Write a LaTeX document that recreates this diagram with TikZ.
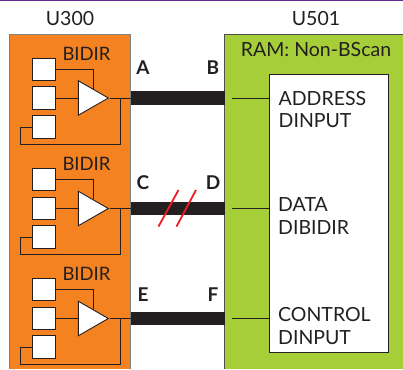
\documentclass[tikz,border=0pt]{standalone}
\usepackage{fontspec}
\setmainfont{Lato}
\usepackage{tikz}
\usetikzlibrary{positioning}
\usetikzlibrary{shapes.geometric}
\definecolor{morange}{HTML}{F58220}
\definecolor{mgreen}{HTML}{A6CE39}
\definecolor{mpurple}{HTML}{662D91}
\definecolor{mred}{HTML}{ED1C24}
\definecolor{mblack}{HTML}{231F20}
\tikzset{pin box/.style = {draw = mblack, fill = white, line width = 0.9pt, minimum size = 22.5pt, inner sep = 0pt},
         buffer/.style = {draw = mblack, fill = white, line width = 0.9pt, isosceles triangle,
                          isosceles triangle stretches, minimum width = 34.5pt, minimum height = 30pt,
                          inner sep = 0pt, anchor = apex},
         wire/.style = {draw = mblack, line width = 0.9pt},
         bus/.style = {draw = mblack, line width = 13.8pt},
         slash/.style = {draw = mred, line width = 1.8pt},
         label/.style = {text = mblack, font = \fontsize{19.5}{20}\selectfont, inner sep = 0pt},
         bidir/.style = {text = mblack, font = \fontsize{18.5}{20}\selectfont, inner sep = 0pt},
         pin name/.style = {text = mblack, font = \fontsize{19}{20}\selectfont\bfseries, inner sep = 0pt}}

\begin{document}
\begin{tikzpicture}[x = 1pt, y = -1pt]
      \useasboundingbox (0, 0) rectangle (403, 369);
      \fill [mpurple] (0, 0) rectangle (403, 1);

      \node [label] (u300) at (70, 19) {U300};
      \node [label] (u501) at (316, 19) {U501};

      % chips
      \fill [morange] (9, 34) rectangle (130.5, 369);
      \draw [gray, line width = 0.9pt] (9, 369) |- (130.5, 34) -- (130.5, 369);
      \fill [mgreen] (224.5, 34.5) rectangle (403, 369);
      \draw [mblack!80, line width = 0.9pt] (403, 34.5) -| (224.5, 369);
      \node [label] (ramname) at (316, 50) {RAM: Non-BScan};
      \node [draw = mblack, fill = white, line width = 0.9pt, minimum width = 119pt, minimum height = 278pt] (ram) at (329, 213) {};

      % first buffer
      \node [bidir] (bidira) at (86.5, 54) {BIDIR};
      \node [pin box] (sqaa) at (44, 69.5) {};
      \node [pin box] (sqab) at (44, 98) {};
      \node [pin box] (sqac) at (44, 127) {};
      \node [buffer] (bufa) at (109.5, 98) {};
      \draw [wire] (sqaa.east) -| (bufa.left side);
      \draw [wire] (sqab.east) -- (bufa.lower side);
      \coordinate (busa) at (130.5, 98);
      \draw [wire] (bufa.apex) -- (busa);
      \draw [wire] (sqac.west) -| (20, 144) -| (120, 98);

      % second buffer
      \node [bidir] (bidirc) at (86.5, 164) {BIDIR};
      \node [pin box] (sqca) at (44, 179.5) {};
      \node [pin box] (sqcb) at (44, 208.5) {};
      \node [pin box] (sqcc) at (44, 237) {};
      \node [buffer] (bufc) at (109.5, 208.5) {};
      \draw [wire] (sqca.east) -| (bufc.left side);
      \draw [wire] (sqcb.east) -- (bufc.lower side);
      \coordinate (busc) at (130.5, 208.5);
      \draw [wire] (bufc.apex) -- (busc);
      \draw [wire] (sqcc.west) -| (20, 254.5) -| (120, 208.5);

      % third buffer
      \node [bidir] (bidire) at (86.5, 274) {BIDIR};
      \node [pin box] (sqea) at (44, 289.5) {};
      \node [pin box] (sqeb) at (44, 318.5) {};
      \node [pin box] (sqec) at (44, 347) {};
      \node [buffer] (bufe) at (109.5, 318.5) {};
      \draw [wire] (sqea.east) -| (bufe.left side);
      \draw [wire] (sqeb.east) -- (bufe.lower side);
      \coordinate (buse) at (130.5, 318.5);
      \draw [wire] (bufe.apex) -- (buse);
      \draw [wire] (sqec.west) -| (20, 364.5) -| (120, 318.5);

      % buses
      \coordinate (busb) at (224.5, 98);
      \coordinate (busd) at (224.5, 208.5);
      \coordinate (busf) at (224.5, 318.5);
      \draw [bus] (busa) -- (busb);
      \draw [bus] (busc) -- (busd);
      \draw [bus] (buse) -- (busf);
      \coordinate (stuba) at (232, 98);
      \coordinate (stubb) at (232, 208.5);
      \coordinate (stubc) at (232, 318.5);
      \draw [wire] (stuba) -- (stuba -| ram.west);
      \draw [wire] (stubb) -- (stubb -| ram.west);
      \draw [wire] (stubc) -- (stubc -| ram.west);

      \coordinate (slashaa) at (158.5, 226.5);
      \coordinate (slashab) at (178.5, 190);
      \coordinate (slashba) at (176.5, 226.5);
      \coordinate (slashbb) at (196, 190);
      \draw [slash] (slashaa) -- (slashab);
      \draw [slash] (slashba) -- (slashbb);

      \node [pin name] (pina) at (143, 68) {A};
      \node [pin name] (pinb) at (213, 68) {B};
      \node [pin name] (pinc) at (143, 183) {C};
      \node [pin name] (pind) at (213, 183) {D};
      \node [pin name] (pine) at (143, 295) {E};
      \node [pin name] (pinf) at (213, 295) {F};

      \node [label, anchor = west] (address) at (278.5, 99) {ADDRESS};
      \node [label, anchor = west] (dinputa) at (278.5, 121) {DINPUT};
      \node [label, anchor = west] (data) at (278, 205) {DATA};
      \node [label, anchor = west] (dibidir) at (278, 228) {DIBIDIR};
      \node [label, anchor = west] (control) at (278, 315) {CONTROL};
      \node [label, anchor = west] (dinputb) at (278, 338) {DINPUT};
    \end{tikzpicture}
\end{document}
